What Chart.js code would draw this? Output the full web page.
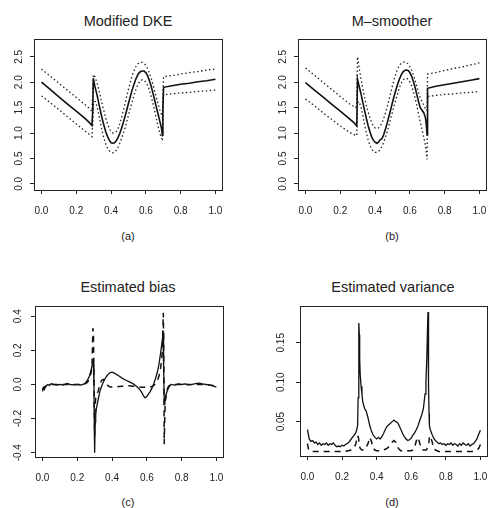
<!DOCTYPE html>
<html>
<head>
<meta charset="utf-8">
<script src="https://cdn.jsdelivr.net/npm/chart.js@4"></script>
<style>
  body { margin: 0; background: #fff; }
  #page { position: relative; width: 488px; height: 508px; overflow: hidden;
          font-family: "Liberation Sans", Arial, sans-serif; color: #222; }
  .title { position: absolute; font-size: 14.5px; transform: translate(-50%, -50%); white-space: nowrap; }
  .tag { position: absolute; font-size: 11px; transform: translate(-50%, -50%); }
  canvas { position: absolute; }
</style>
</head>
<body>
<div id="page">
  <div class="title" style="left:128px; top:21px">Modified DKE</div>
  <div class="title" style="left:392px; top:21px">M&#8211;smoother</div>
  <div class="title" style="left:128px; top:287px">Estimated bias</div>
  <div class="title" style="left:393px; top:287px">Estimated variance</div>
  <div class="tag" style="left:128px; top:236px">(a)</div>
  <div class="tag" style="left:392px; top:236px">(b)</div>
  <div class="tag" style="left:128px; top:502px">(c)</div>
  <div class="tag" style="left:392px; top:502px">(d)</div>
  <canvas id="chartA"></canvas>
  <canvas id="chartB"></canvas>
  <canvas id="chartC"></canvas>
  <canvas id="chartD"></canvas>
</div>
<script>
// tick labels
const xTicks = [0, 0.2, 0.4, 0.6, 0.8, 1.0];
const yTicksFit = [0, 0.5, 1.0, 1.5, 2.0, 2.5];
const yTicksBias = [-0.4, -0.2, 0, 0.2, 0.4];
const yTicksVar = [0.05, 0.10, 0.15];

// (a) modified DKE: estimate and dotted band
const xA = [0, 0.05, 0.1, 0.15, 0.2, 0.25,
  0.28, 0.29, 0.295, 0.298, 0.305,
  0.31, 0.32, 0.33, 0.34, 0.35, 0.36, 0.37, 0.38, 0.39, 0.40,
  0.41, 0.42, 0.43, 0.44, 0.45, 0.46, 0.47, 0.48, 0.49, 0.50,
  0.51, 0.52, 0.53, 0.54, 0.55, 0.56, 0.57, 0.58, 0.59, 0.60,
  0.61, 0.62, 0.63, 0.64, 0.65, 0.66, 0.67, 0.68, 0.69,
  0.695, 0.698, 0.702,
  0.75, 0.8, 0.85, 0.9, 0.95, 1.0];
const fitA = [2.00, 1.86, 1.71, 1.57, 1.43, 1.29,
  1.19, 1.15, 1.45, 2.08, 1.95,
  1.88, 1.74, 1.58, 1.42, 1.27, 1.14, 1.02, 0.93, 0.86, 0.81,
  0.80, 0.81, 0.85, 0.91, 0.99, 1.09, 1.20, 1.32, 1.45, 1.58,
  1.71, 1.83, 1.94, 2.04, 2.12, 2.18, 2.21, 2.22, 2.22, 2.19,
  2.13, 2.04, 1.93, 1.80, 1.66, 1.52, 1.38, 1.24, 1.10,
  0.96, 1.45, 1.90,
  1.93, 1.96, 1.98, 2.01, 2.03, 2.06];
const upperA = [2.26, 2.12, 1.98, 1.84, 1.70, 1.56,
  1.47, 1.43, 1.80, 2.15, 2.12,
  2.08, 1.98, 1.85, 1.70, 1.55, 1.42, 1.29, 1.18, 1.09, 1.03,
  1.00, 1.00, 1.03, 1.09, 1.18, 1.30, 1.43, 1.57, 1.72, 1.86,
  1.99, 2.11, 2.21, 2.29, 2.35, 2.38, 2.39, 2.39, 2.37, 2.33,
  2.27, 2.19, 2.09, 1.97, 1.84, 1.71, 1.58, 1.46, 1.36,
  1.30, 1.70, 2.11,
  2.13, 2.16, 2.19, 2.21, 2.24, 2.26];
const lowerA = [1.73, 1.60, 1.46, 1.32, 1.18, 1.04,
  0.96, 0.93, 1.20, 1.55, 1.62,
  1.62, 1.52, 1.36, 1.18, 1.02, 0.89, 0.78, 0.70, 0.65, 0.62,
  0.61, 0.62, 0.66, 0.72, 0.80, 0.89, 0.99, 1.10, 1.22, 1.35,
  1.48, 1.60, 1.72, 1.83, 1.92, 1.99, 2.03, 2.05, 2.04, 2.00,
  1.94, 1.85, 1.73, 1.60, 1.45, 1.29, 1.14, 1.00, 0.90,
  0.88, 1.30, 1.75,
  1.77, 1.79, 1.80, 1.82, 1.83, 1.85];

// (b) M-smoother: estimate and dotted band
const xB = [0, 0.05, 0.1, 0.15, 0.2, 0.25,
  0.28, 0.29, 0.295, 0.299, 0.305,
  0.31, 0.32, 0.33, 0.34, 0.35, 0.36, 0.37, 0.38, 0.39, 0.40,
  0.41, 0.42, 0.43, 0.44, 0.45, 0.46, 0.47, 0.48, 0.49, 0.50,
  0.51, 0.52, 0.53, 0.54, 0.55, 0.56, 0.57, 0.58, 0.59, 0.60,
  0.61, 0.62, 0.63, 0.64, 0.65, 0.66, 0.67, 0.68, 0.69,
  0.695, 0.699, 0.702,
  0.75, 0.8, 0.85, 0.9, 0.95, 1.0];
const fitB = [1.99, 1.85, 1.71, 1.57, 1.43, 1.29,
  1.20, 1.16, 1.14, 2.06, 1.97,
  1.90, 1.76, 1.60, 1.44, 1.29, 1.15, 1.03, 0.93, 0.86, 0.82,
  0.80, 0.82, 0.87, 0.89, 0.97, 1.08, 1.20, 1.33, 1.46, 1.60,
  1.73, 1.85, 1.96, 2.06, 2.14, 2.20, 2.23, 2.24, 2.23, 2.19,
  2.12, 2.02, 1.90, 1.76, 1.62, 1.50, 1.45, 1.40, 1.30,
  1.15, 0.97, 1.88,
  1.92, 1.95, 1.98, 2.01, 2.04, 2.07];
const upperB = [2.28, 2.14, 2.00, 1.86, 1.72, 1.58,
  1.52, 1.50, 1.60, 2.50, 2.38,
  2.25, 2.05, 1.87, 1.70, 1.55, 1.42, 1.31, 1.21, 1.14, 1.10,
  1.09, 1.10, 1.14, 1.20, 1.29, 1.40, 1.52, 1.65, 1.79, 1.93,
  2.06, 2.17, 2.26, 2.33, 2.37, 2.39, 2.40, 2.39, 2.36, 2.31,
  2.24, 2.15, 2.04, 1.92, 1.80, 1.70, 1.62, 1.55, 1.48,
  1.45, 1.45, 2.16,
  2.19, 2.23, 2.27, 2.30, 2.34, 2.38];
const lowerB = [1.67, 1.54, 1.40, 1.27, 1.14, 1.02,
  0.97, 0.95, 0.95, 1.58, 1.62,
  1.60, 1.50, 1.34, 1.16, 1.00, 0.87, 0.76, 0.69, 0.64, 0.62,
  0.62, 0.64, 0.68, 0.74, 0.82, 0.92, 1.03, 1.15, 1.28, 1.41,
  1.54, 1.66, 1.78, 1.89, 1.98, 2.04, 2.07, 2.08, 2.06, 2.01,
  1.93, 1.82, 1.69, 1.54, 1.38, 1.22, 1.07, 0.92, 0.75,
  0.62, 0.48, 1.72,
  1.74, 1.76, 1.77, 1.79, 1.80, 1.82];

// (c) estimated bias: solid and dashed
const xC = [0, 0.005, 0.01, 0.02, 0.03, 0.04, 0.05, 0.06, 0.08, 0.10,
  0.12, 0.14, 0.16, 0.18, 0.20, 0.22, 0.24, 0.25, 0.26, 0.27,
  0.28, 0.285, 0.29, 0.293, 0.296, 0.298, 0.300, 0.303, 0.306, 0.31,
  0.32, 0.33, 0.34, 0.35, 0.36, 0.37, 0.38, 0.39, 0.40, 0.41,
  0.42, 0.44, 0.46, 0.48, 0.50, 0.52, 0.54, 0.56, 0.57, 0.58,
  0.59, 0.60, 0.61, 0.62, 0.63, 0.64, 0.65, 0.66, 0.67, 0.68,
  0.69, 0.693, 0.695, 0.698, 0.700, 0.703, 0.706, 0.71, 0.72, 0.73,
  0.74, 0.76, 0.78, 0.80, 0.82, 0.84, 0.86, 0.88, 0.90, 0.92,
  0.94, 0.96, 0.98, 1.00];
const biasSolid = [-0.04, -0.02, -0.03, -0.01, 0.00, -0.005, 0.005, 0.002, -0.003, 0.000,
  -0.004, 0.006, 0.000, -0.002, 0.001, -0.003, 0.004, 0.012, 0.028, 0.05,
  0.085, 0.11, 0.15, 0.12, 0.0, -0.25, -0.40, -0.22, -0.18, -0.14,
  -0.09, -0.04, -0.01, 0.015, 0.035, 0.05, 0.062, 0.07, 0.072, 0.068,
  0.062, 0.05, 0.036, 0.025, 0.015, 0.005, -0.01, -0.03, -0.045, -0.065,
  -0.078, -0.07, -0.055, -0.04, -0.02, 0.005, 0.035, 0.07, 0.12, 0.19,
  0.27, 0.30, 0.31, 0.10, -0.10, -0.12, -0.08, -0.06, -0.03, -0.01,
  0.000, -0.004, 0.003, 0.000, 0.004, -0.002, 0.001, 0.005, 0.008, 0.003,
  0.000, -0.004, -0.008, -0.015];
const biasDashed = [-0.03, -0.02, -0.015, -0.008, -0.004, -0.002, 0.0, 0.0, 0.0, 0.0,
  0.0, 0.0, 0.0, 0.0, 0.0, 0.0, 0.002, 0.006, 0.015, 0.035,
  0.07, 0.12, 0.33, 0.30, 0.05, -0.15, -0.30, -0.12, -0.08, -0.06,
  -0.04, 0.0, 0.025, 0.03, 0.015, 0.0, -0.01, -0.015, -0.015, -0.015,
  -0.015, -0.012, -0.01, -0.008, -0.008, -0.01, -0.012, -0.015, -0.016, -0.016,
  -0.016, -0.016, -0.016, -0.015, -0.012, -0.005, 0.005, 0.02, 0.05, 0.10,
  0.20, 0.35, 0.42, 0.10, -0.35, -0.20, -0.10, -0.06, -0.02, -0.005,
  0.0, 0.0, 0.0, 0.0, 0.0, 0.0, 0.0, 0.0, 0.0, 0.0,
  0.0, -0.003, -0.006, -0.01];

// (d) estimated variance: solid and dashed
const xD = [0, 0.005, 0.01, 0.02, 0.03, 0.04, 0.05, 0.06, 0.07, 0.08,
  0.09, 0.10, 0.11, 0.12, 0.13, 0.14, 0.15, 0.16, 0.17, 0.18,
  0.19, 0.20, 0.21, 0.22, 0.23, 0.24, 0.25, 0.26, 0.27, 0.28,
  0.285, 0.29, 0.293, 0.296, 0.298, 0.300, 0.302, 0.305, 0.31, 0.315,
  0.32, 0.33, 0.34, 0.35, 0.36, 0.37, 0.38, 0.39, 0.40, 0.41,
  0.42, 0.43, 0.44, 0.45, 0.46, 0.47, 0.48, 0.49, 0.50, 0.51,
  0.52, 0.53, 0.54, 0.55, 0.56, 0.57, 0.58, 0.59, 0.60, 0.61,
  0.62, 0.63, 0.64, 0.65, 0.66, 0.67, 0.68, 0.685, 0.69, 0.695,
  0.697, 0.699, 0.701, 0.703, 0.705, 0.71, 0.72, 0.73, 0.74, 0.75,
  0.76, 0.77, 0.78, 0.79, 0.80, 0.81, 0.82, 0.83, 0.84, 0.85,
  0.86, 0.87, 0.88, 0.89, 0.90, 0.91, 0.92, 0.93, 0.94, 0.95,
  0.96, 0.97, 0.98, 0.99, 1.00];
const varSolid = [0.040, 0.034, 0.028, 0.025, 0.026, 0.023, 0.024, 0.021, 0.023, 0.020,
  0.022, 0.021, 0.023, 0.020, 0.022, 0.021, 0.023, 0.020, 0.018, 0.019,
  0.018, 0.020, 0.019, 0.021, 0.022, 0.024, 0.027, 0.030, 0.033, 0.036,
  0.040, 0.045, 0.080, 0.130, 0.175, 0.160, 0.130, 0.110, 0.095, 0.085,
  0.075, 0.067, 0.063, 0.055, 0.045, 0.038, 0.033, 0.030, 0.028, 0.030,
  0.028, 0.031, 0.035, 0.040, 0.044, 0.046, 0.048, 0.050, 0.052, 0.050,
  0.049, 0.045, 0.040, 0.035, 0.031, 0.028, 0.026, 0.027, 0.029, 0.033,
  0.036, 0.040, 0.045, 0.052, 0.058, 0.066, 0.085, 0.100, 0.130, 0.175,
  0.189, 0.150, 0.095, 0.060, 0.045, 0.040, 0.034, 0.029, 0.026, 0.024,
  0.022, 0.023, 0.021, 0.022, 0.020, 0.022, 0.021, 0.023, 0.020, 0.022,
  0.021, 0.019, 0.022, 0.020, 0.023, 0.021, 0.020, 0.022, 0.019, 0.021,
  0.022, 0.025, 0.028, 0.034, 0.039];
const varDashed = [0.022, 0.016, 0.013, 0.012, 0.012, 0.012, 0.012, 0.012, 0.012, 0.012,
  0.012, 0.012, 0.012, 0.012, 0.012, 0.012, 0.012, 0.012, 0.012, 0.012,
  0.012, 0.012, 0.012, 0.012, 0.013, 0.013, 0.014, 0.015, 0.017, 0.022,
  0.028, 0.032, 0.031, 0.028, 0.024, 0.020, 0.018, 0.016, 0.015, 0.014,
  0.014, 0.014, 0.018, 0.022, 0.030, 0.025, 0.016, 0.014, 0.013, 0.013,
  0.013, 0.014, 0.014, 0.015, 0.016, 0.018, 0.020, 0.024, 0.026, 0.024,
  0.018, 0.015, 0.013, 0.013, 0.013, 0.013, 0.013, 0.013, 0.013, 0.014,
  0.018, 0.026, 0.030, 0.022, 0.015, 0.014, 0.014, 0.014, 0.015, 0.017,
  0.019, 0.020, 0.022, 0.026, 0.030, 0.032, 0.025, 0.016, 0.014, 0.013,
  0.012, 0.012, 0.012, 0.012, 0.012, 0.012, 0.012, 0.012, 0.012, 0.012,
  0.012, 0.012, 0.012, 0.012, 0.012, 0.012, 0.012, 0.012, 0.012, 0.012,
  0.012, 0.013, 0.014, 0.016, 0.021];

const INK = '#222';
const FONT = "'Liberation Sans', Arial, sans-serif";

function pairs(xs, ys) {
  return xs.map((x, i) => ({ x: x, y: ys[i] }));
}

function solid(xs, ys, w) {
  return { data: pairs(xs, ys), borderColor: '#111', borderWidth: w, pointRadius: 0, tension: 0 };
}
function dotted(xs, ys) {
  return { data: pairs(xs, ys), borderColor: INK, borderWidth: 1.3, borderDash: [1.5, 2.5], pointRadius: 0, tension: 0 };
}
function dashed(xs, ys) {
  return { data: pairs(xs, ys), borderColor: '#111', borderWidth: 1.5, borderDash: [6, 5], pointRadius: 0, tension: 0 };
}

// box round the plot region, like R's box()
const framePlugin = {
  id: 'frame',
  afterDraw(chart) {
    const { ctx, chartArea: a } = chart;
    ctx.save();
    ctx.strokeStyle = INK;
    ctx.lineWidth = 1;
    ctx.strokeRect(Math.round(a.left) + 0.5, Math.round(a.top) + 0.5,
      Math.round(a.right - a.left), Math.round(a.bottom - a.top));
    ctx.restore();
  }
};

function makeChart(id, box, datasets, yMin, yMax, yTicks, digits, yPad) {
  const canvas = document.getElementById(id);
  canvas.width = box.w;
  canvas.height = box.h;
  canvas.style.left = box.l + 'px';
  canvas.style.top = box.t + 'px';
  canvas.style.width = box.w + 'px';
  canvas.style.height = box.h + 'px';

  new Chart(canvas, {
    type: 'line',
    data: { datasets: datasets },
    options: {
      responsive: false,
      animation: false,
      devicePixelRatio: 1,
      layout: { padding: { top: 4, right: 1, left: 0, bottom: 0 } },
      plugins: { legend: { display: false }, tooltip: { enabled: false } },
      scales: {
        x: {
          type: 'linear', min: -0.043, max: 1.038,
          border: { display: false },
          grid: { drawOnChartArea: false, drawTicks: true, tickLength: 4, color: INK },
          ticks: { color: INK, font: { family: FONT, size: 10 }, padding: 11,
                   maxRotation: 0, callback: v => v.toFixed(1) },
          afterBuildTicks: s => { s.ticks = xTicks.map(v => ({ value: v })); },
          afterFit: s => { s.height = 30; s.paddingLeft = 0; s.paddingRight = 0; }
        },
        y: {
          type: 'linear', min: yMin, max: yMax,
          border: { display: false },
          grid: { drawOnChartArea: false, drawTicks: true, tickLength: 4, color: INK },
          ticks: { color: INK, font: { family: FONT, size: 10 }, padding: yPad,
                   minRotation: 90, maxRotation: 90, crossAlign: 'center',
                   callback: v => v.toFixed(digits) },
          afterBuildTicks: s => { s.ticks = yTicks.map(v => ({ value: v })); },
          afterFit: s => { s.width = 34; s.paddingTop = 0; s.paddingBottom = 0; }
        }
      }
    },
    plugins: [framePlugin]
  });
}

makeChart('chartA', { l: 0, t: 35, w: 223, h: 185 },
  [solid(xA, fitA, 1.6), dotted(xA, upperA), dotted(xA, lowerA)],
  -0.12, 2.85, yTicksFit, 1, 4);

makeChart('chartB', { l: 264, t: 35, w: 223, h: 185 },
  [solid(xB, fitB, 1.6), dotted(xB, upperB), dotted(xB, lowerB)],
  -0.12, 2.85, yTicksFit, 1, 4);

makeChart('chartC', { l: 1, t: 302, w: 223, h: 185 },
  [solid(xC, biasSolid, 1.3), dashed(xC, biasDashed)],
  -0.425, 0.46, yTicksBias, 1, 4);

makeChart('chartD', { l: 266, t: 302, w: 222, h: 184 },
  [solid(xD, varSolid, 1.3), dashed(xD, varDashed)],
  0.0064, 0.1966, yTicksVar, 2, 5);
</script>
</body>
</html>
